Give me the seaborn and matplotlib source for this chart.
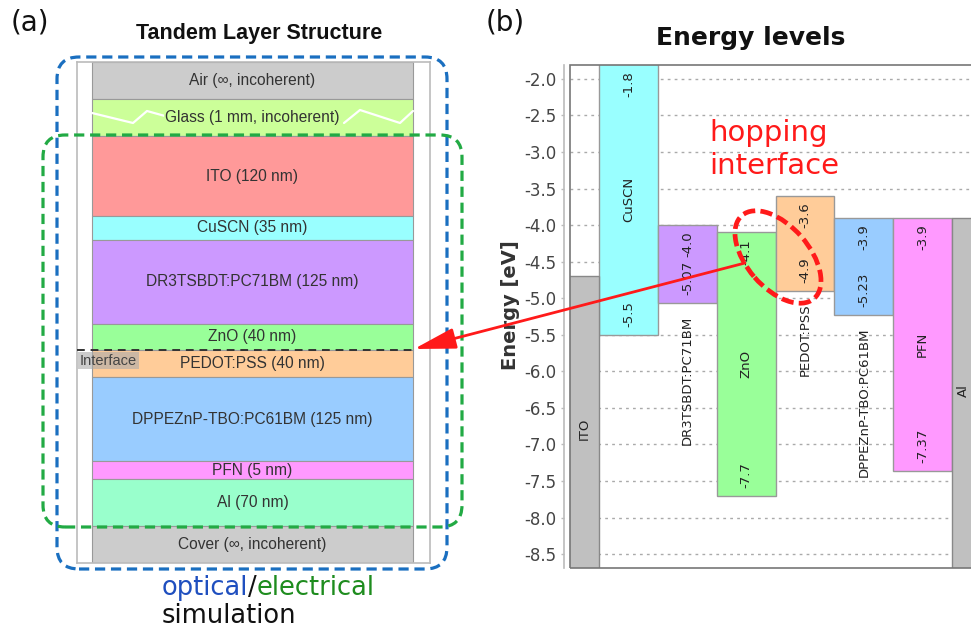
import matplotlib
matplotlib.use('Agg')
import matplotlib.pyplot as plt
import seaborn as sns
import pandas as pd
from matplotlib.patches import FancyBboxPatch, Ellipse, Rectangle

# (a) layer stack, top to bottom
stack_labels = ['Air (∞, incoherent)', 'Glass (1 mm, incoherent)', 'ITO (120 nm)', 'CuSCN (35 nm)',
                'DR3TSBDT:PC71BM (125 nm)', 'ZnO (40 nm)', 'PEDOT:PSS (40 nm)',
                'DPPEZnP-TBO:PC61BM (125 nm)', 'PFN (5 nm)', 'Al (70 nm)', 'Cover (∞, incoherent)']
stack_nm = [None, None, 120, 35, 125, 40, 40, 125, 5, 70, None]
stack_colors = ['#cccccc', '#ccff99', '#ff9999', '#99ffff', '#cc99ff', '#99ff99',
                '#ffcc99', '#99ccff', '#ff99ff', '#99ffcc', '#cccccc']
interface_after = 'ZnO (40 nm)'

# (b) energy levels
layers = ['CuSCN', 'DR3TSBDT:PC71BM', 'ZnO', 'PEDOT:PSS', 'DPPEZnP-TBO:PC61BM', 'PFN']
lumo = [-1.8, -4.0, -4.1, -3.6, -3.9, -3.9]
homo = [-5.5, -5.07, -7.7, -4.9, -5.23, -7.37]
layer_colors = ['#99ffff', '#cc99ff', '#99ff99', '#ffcc99', '#99ccff', '#ff99ff']
electrodes = ['ITO', 'Al']
work_fn = [-4.7, -3.9]

sns.set_theme(style='white')
plt.rcParams['font.family'] = ['DejaVu Sans']

W, H = 971, 628
fig = plt.figure(figsize=(W / 100, H / 100), dpi=100)

def px(x, y):
  return x / W, 1 - y / H

# ---------------- (a) ----------------
ax1 = fig.add_axes([77 / W, 65 / H, 353 / W, 501 / H])
incoh, min_nm = 55, 27
depth = [incoh if t is None else max(t, min_nm) for t in stack_nm]
tops = [sum(depth[:i]) for i in range(len(depth))]
ax1.barh(y=tops, width=0.9095, height=depth, left=0.0425, align='edge', color=stack_colors,
         edgecolor='#999999', linewidth=0.8, zorder=2)
ax1.set_xlim(0, 1)
ax1.set_ylim(sum(depth), 0)
ax1.set_xticks([])
ax1.set_yticks([])
for s in ax1.spines.values():
  s.set_color('#bbbbbb')
  s.set_linewidth(1.2)

lfont = ['Liberation Sans', 'DejaVu Sans']
for lab, top, d, col in zip(stack_labels, tops, depth, stack_colors):
  kw = {}
  if lab.startswith('Glass'):
    kw['bbox'] = dict(facecolor=col, edgecolor='none', pad=1)
  ax1.text(0.497, top + d / 2, lab, ha='center', va='center', fontsize=11.2,
           color='#333333', family=lfont, zorder=5, **kw)

# glass zigzag
def lp(x, y):
  return (x - 77) / 353, (y - 62) / 0.6707
zz1 = [lp(92, 113), lp(133, 123), lp(147, 111), lp(165, 116)]
zz2 = [lp(344, 123), lp(360, 110), lp(400, 123), lp(413, 111)]
for zz in (zz1, zz2):
  ax1.plot([p[0] for p in zz], [p[1] for p in zz], color='white', lw=1.6, zorder=3)

# interface
k = stack_labels.index(interface_after)
y_if = tops[k] + depth[k]
ax1.plot([0, 0.952], [y_if, y_if], color='#333333', lw=1.4, ls=(0, (4, 3)), zorder=4)
ax1.text(0.008, y_if + 5, 'Interface', ha='left', va='top', fontsize=10.5, color='#444444',
         family=lfont, zorder=5, bbox=dict(facecolor='#aaaaaa', alpha=0.6, edgecolor='none', pad=1.2))

fig.text(*px(259, 34), 'Tandem Layer Structure', ha='center', va='center', fontsize=15.5,
         fontweight='bold', family=lfont, color='#111111')

# simulation boxes (inches)
blue = FancyBboxPatch((0.57, 0.59), 3.90, 5.12, boxstyle='round,pad=0,rounding_size=0.22',
                      transform=fig.dpi_scale_trans, fill=False, ec='#1a6fc0', lw=2.3,
                      ls=(0, (3.2, 1.8)))
green = FancyBboxPatch((0.43, 1.01), 4.19, 3.92, boxstyle='round,pad=0,rounding_size=0.22',
                       transform=fig.dpi_scale_trans, fill=False, ec='#22aa44', lw=2.3,
                       ls=(0, (3.2, 1.8)))
fig.add_artist(blue)
fig.add_artist(green)

r = fig.canvas.get_renderer()
x = 162
for word, col in [('optical', '#1f4fbf'), ('/', '#111111'), ('electrical', '#1e8c1e')]:
  t = fig.text(x / W, 1 - 588 / H, word, color=col, fontsize=18.5, va='center', ha='left')
  x += t.get_window_extent(r).width
fig.text(162 / W, 1 - 616 / H, 'simulation', color='#111111', fontsize=18.5, va='center', ha='left')

fig.text(*px(30, 22), '(a)', ha='center', va='center', fontsize=20, color='#111111')
fig.text(*px(505, 22), '(b)', ha='center', va='center', fontsize=20, color='#111111')

# ---------------- (b) ----------------
ax2 = fig.add_axes([570 / W, 60 / H, 470 / W, 503 / H])
df = pd.DataFrame({'layer': layers, 'lumo': lumo, 'homo': homo})
df['gap'] = df['lumo'] - df['homo']
sns.barplot(data=df, x='layer', y='gap', bottom=df['homo'].values, color='#cccccc',
            saturation=1, width=1.0, errorbar=None, edgecolor='#999999', linewidth=1,
            ax=ax2, zorder=2)
for p, c in zip(ax2.patches, layer_colors):
  p.set_facecolor(c)

ax2.bar([-1, 6], [w + 10 for w in work_fn], bottom=-10, width=1.0, color='#c0c0c0',
        edgecolor='#888888', linewidth=1, zorder=2)

ax2.set_xlim(-1, 7)
ax2.set_ylim(-8.69, -1.81)
ax2.set_xticks([])
ax2.set_xlabel('')
ax2.set_yticks([-2.0 - 0.5 * i for i in range(14)])
ax2.set_yticklabels(['%.1f' % (-2.0 - 0.5 * i) for i in range(14)])
ax2.tick_params(axis='y', left=True, length=2.5, width=1, color='#bbbbbb', pad=2.5,
                labelsize=12, labelcolor='#444444')
ax2.yaxis.grid(True, linestyle=(0, (2, 3)), color='#aaaaaa', lw=1)
ax2.set_axisbelow(True)
for n, s in ax2.spines.items():
  s.set_visible(n == 'left')
ax2.spines['left'].set_position(('outward', 4.5))
ax2.spines['left'].set_color('#bbbbbb')
ax2.spines['left'].set_linewidth(1.2)
ax2.add_patch(Rectangle((0, 0), 1, 1, transform=ax2.transAxes, fill=False, ec='#777777',
                        lw=1.2, clip_on=False, zorder=6))
ax2.set_ylabel('Energy [eV]', fontsize=14, fontweight='bold', color='#333333')
ax2.yaxis.set_label_coords(-0.106, 0.523)

for i, (name, lo, hi) in enumerate(zip(layers, lumo, homo)):
  ax2.text(i, lo - 0.09, str(lo), rotation=90, ha='center', va='top', fontsize=9.5, color='#222222', zorder=5)
  ax2.text(i, hi + 0.11, str(hi), rotation=90, ha='center', va='bottom', fontsize=9.5, color='#222222', zorder=5)
  if lo - hi > 2:
    ax2.text(i, (lo + hi) / 2, name, rotation=90, ha='center', va='center', fontsize=9.5, color='#222222', zorder=5)
  else:
    ax2.text(i, hi - 0.17, name, rotation=90, ha='center', va='top', fontsize=9.5, color='#222222', zorder=5)

ax2.text(-0.75, -6.78, electrodes[0], rotation=90, ha='center', va='center', fontsize=9.5, color='#222222', zorder=5)
ax2.text(5.7, -6.26, electrodes[1], rotation=90, ha='center', va='center', fontsize=9.5, color='#222222', zorder=5)

fig.text(*px(751, 38), 'Energy levels', ha='center', va='center', fontsize=18,
         fontweight='bold', color='#111111')

fig.text(*px(709, 133), 'hopping', ha='left', va='center', fontsize=21, color='#ff1a1a')
fig.text(*px(709, 166), 'interface', ha='left', va='center', fontsize=21, color='#ff1a1a')

ell = Ellipse((7.78, (H - 257) / 100), 1.10, 0.62, angle=-49, transform=fig.dpi_scale_trans,
              fill=False, ec='#ff1a1a', lw=3.4, ls=(0, (2.6, 1.1)))
fig.add_artist(ell)

fig.add_artist(matplotlib.text.Annotation(
    '', xy=(414, H - 349), xytext=(745, H - 263), xycoords='figure pixels',
    textcoords='figure pixels',
    arrowprops=dict(arrowstyle='-|>,head_length=1.6,head_width=0.4', color='#ff1a1a',
                    lw=2, mutation_scale=16, shrinkA=0, shrinkB=0)))

fig.savefig('out.png', dpi=100)
